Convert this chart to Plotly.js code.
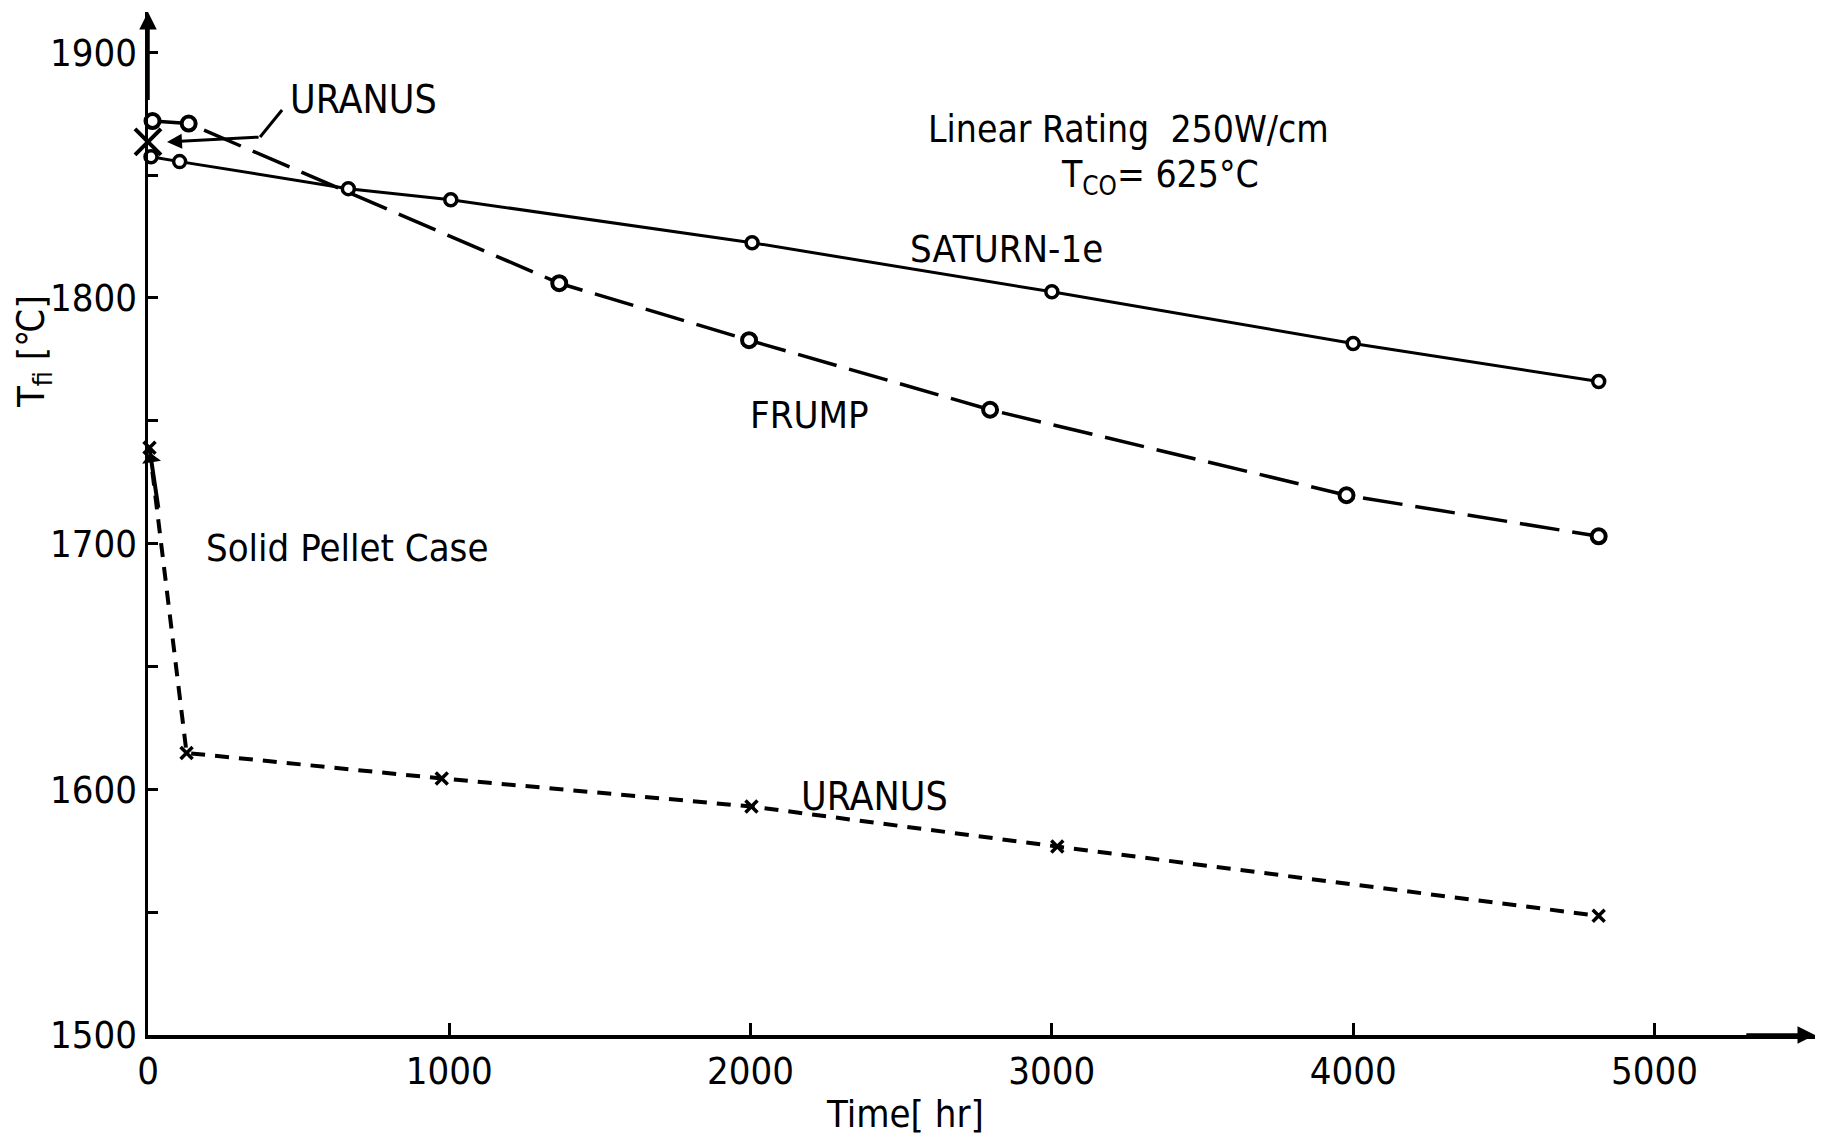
<!DOCTYPE html>
<html>
<head>
<meta charset="utf-8">
<script src="https://cdn.plot.ly/plotly-3.0.1.min.js"></script>
<style>html,body{margin:0;padding:0;background:#fff;}#chart{width:1824px;height:1138px;}</style>
</head>
<body>
<div id="chart"></div>
<script>
// ---- data ----
const saturnTime = [10, 105, 665, 1005, 2005, 3000, 4000, 4815];
const saturnTemp = [1857.5, 1855.5, 1844.5, 1840, 1822.5, 1802.5, 1781.5, 1766];

const frumpTime = [15, 135, 1365, 1995, 2795, 3978, 4815];
const frumpTemp = [1872, 1871, 1806, 1782.8, 1754.5, 1719.7, 1703];

const uranusSolidTime = [5, 128, 975, 2003, 3018, 4815];
const uranusSolidTemp = [1739, 1614.8, 1604.4, 1593, 1576.7, 1548.5];

const uranusAnnularTime = [0];
const uranusAnnularTemp = [1863.5];

const xTickVals = [0, 1000, 2000, 3000, 4000, 5000];
const yTickVals = [1500, 1600, 1700, 1800, 1900];

const FONT = '"DejaVu Sans Condensed", "Liberation Sans Narrow", "Liberation Sans", sans-serif';

const traces = [
  {x: saturnTime, y: saturnTemp, mode: 'lines+markers', name: 'SATURN-1e', cliponaxis: false,
   line: {color: '#000', width: 3},
   marker: {symbol: 'circle', size: 12, color: '#fff', line: {color: '#000', width: 3.5}}},
  {x: frumpTime, y: frumpTemp, mode: 'lines+markers', name: 'FRUMP', cliponaxis: false,
   line: {color: '#000', width: 3.5, dash: '40px,13px'},
   marker: {symbol: 'circle', size: 14, color: '#fff', line: {color: '#000', width: 4}}},
  {x: uranusSolidTime, y: uranusSolidTemp, mode: 'lines+markers', name: 'URANUS solid', cliponaxis: false,
   line: {color: '#000', width: 4, dash: '14px,10px'},
   marker: {symbol: 'x-thin-open', size: 12, color: '#000', line: {color: '#000', width: 3.5}}},
  {x: uranusAnnularTime, y: uranusAnnularTemp, mode: 'markers', name: 'URANUS', cliponaxis: false,
   marker: {symbol: 'x-thin-open', size: 26, color: '#000', line: {color: '#000', width: 4}}}
];

function txt(text, x, y, size) {
  return {text: text, x: x, y: y, xref: 'x', yref: 'y', showarrow: false,
          xanchor: 'center', yanchor: 'middle', font: {family: FONT, size: size, color: '#000'}};
}
function arrow(x, y, ax, ay, w, head, size) {
  return {text: '', x: x, y: y, ax: ax, ay: ay, xref: 'x', yref: 'y', axref: 'x', ayref: 'y',
          showarrow: true, arrowhead: head, arrowsize: size, arrowwidth: w, arrowcolor: '#000', standoff: 0};
}

const layout = {
  width: 1824, height: 1138,
  margin: {l: 148, r: 9, t: 12, b: 103, pad: 0},
  paper_bgcolor: '#fff', plot_bgcolor: '#fff',
  showlegend: false,
  font: {family: FONT, size: 38, color: '#000'},
  xaxis: {
    range: [0, 5533], showgrid: false, zeroline: false,
    showline: true, linecolor: '#000', linewidth: 3.5,
    tickmode: 'array', tickvals: xTickVals, ticktext: xTickVals.map(String),
    ticks: 'inside', ticklen: 12, tickwidth: 3, tickcolor: '#000',
    tickfont: {family: FONT, size: 38, color: '#000'}
  },
  yaxis: {
    range: [1500, 1916.4], showgrid: false, zeroline: false,
    showline: true, linecolor: '#000', linewidth: 3.5,
    tickmode: 'array', tickvals: yTickVals, ticktext: yTickVals.map(String),
    ticks: 'inside', ticklen: 10, tickwidth: 3, tickcolor: '#000',
    minor: {dtick: 50, ticks: 'inside', ticklen: 10, tickwidth: 3, tickcolor: '#000', showgrid: false},
    tickfont: {family: FONT, size: 38, color: '#000'}
  },
  shapes: [
    {type: 'line', xref: 'x', yref: 'y', x0: 372, y0: 1865.5, x1: 445, y1: 1876.5,
     line: {color: '#000', width: 3}}
  ],
  annotations: [
    txt('Linear Rating  250W/cm', 3253, 1868.4, 37),
    txt('T<sub>CO</sub>= 625°C', 3359, 1849.3, 37),
    txt('SATURN-1e', 2851, 1820, 38),
    txt('FRUMP', 2197, 1752.4, 38),
    txt('Solid Pellet Case', 662, 1698.3, 38),
    txt('URANUS', 2410, 1596.9, 39),
    txt('URANUS', 715, 1880.6, 39),
    arrow(63, 1863.5, 372, 1865.5, 3, 2, 1),
    arrow(7, 1737, 35, 1714, 4, 1, 0.8),
    arrow(5533, 1500, 5300, 1500, 3.5, 2, 1),
    arrow(0, 1916.4, 0, 1880, 3.5, 2, 1),
    {text: 'Time[ hr]', xref: 'x', yref: 'paper', x: 2512, y: 0, yshift: -79,
     showarrow: false, xanchor: 'center', yanchor: 'middle', font: {family: FONT, size: 38, color: '#000'}},
    {text: 'T<sub>fi</sub> [℃]', xref: 'paper', yref: 'y', x: 0, xshift: -115, y: 1778,
     textangle: -90, showarrow: false, xanchor: 'center', yanchor: 'middle',
     font: {family: FONT, size: 38, color: '#000'}}
  ]
};

Plotly.newPlot('chart', traces, layout, {staticPlot: true, displayModeBar: false});
</script>
</body>
</html>
